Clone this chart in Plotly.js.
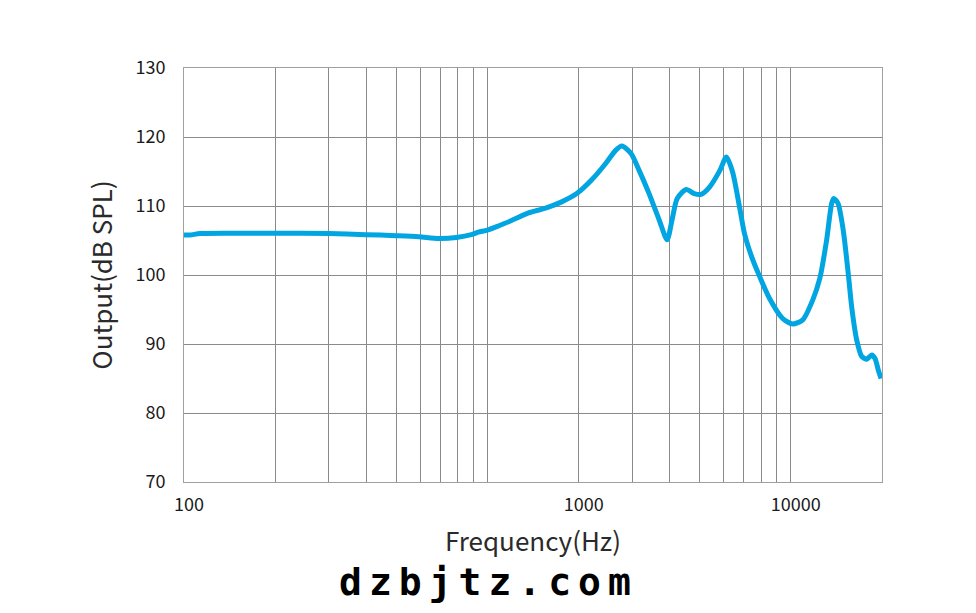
<!DOCTYPE html>
<html>
<head>
<meta charset="utf-8">
<script src="https://cdn.plot.ly/plotly-3.0.1.min.js"></script>
<style>
html,body{margin:0;padding:0;background:#fff;}
#chart{width:976px;height:613px;}
svg text.annotation-text{letter-spacing:7px;}
</style>
</head>
<body>
<div id="chart"></div>
<script>
// Frequency response data (Hz, dB SPL)
const freqHz = [100, 104.6, 113, 141.5, 200, 300, 398, 500, 594, 691, 791, 893, 934,
  1000, 1087, 1201, 1367, 1556, 1758, 1971, 2209, 2459, 2652, 2778, 2976, 3162, 3413, 3684, 3914,
  4064, 4226, 4524, 4810, 5070, 5393, 5850, 6138, 6427, 6780, 7043, 7427, 7898, 8518, 9409,
  10154, 10958, 11826, 12474, 13140, 13650, 13873, 14320, 14900, 15480, 15886, 16503, 17140,
  17812, 18500, 18970, 19450, 19860];
const outputDb = [105.8, 105.8, 106.0, 106.05, 106.05, 106.0, 105.85, 105.7, 105.55, 105.3, 105.45, 105.9, 106.2,
  106.5, 107.1, 107.9, 109.0, 109.7, 110.6, 111.8, 113.8, 116.2, 118.1, 118.7, 117.6, 115.2, 111.8, 108.0, 105.1,
  108.0, 111.1, 112.4, 111.8, 111.7, 112.7, 115.2, 117.1, 115.0, 109.9, 106.0, 102.7, 99.8, 96.6, 93.7,
  92.9, 93.5, 96.4, 99.5, 105.1, 110.4, 111.1, 110.4, 106.5, 100.2, 95.4, 90.6, 88.2,
  87.8, 88.4, 87.9, 86.2, 85.0];

// Axis labels as printed on the reference (the "1000" label sits on the 2000 Hz gridline)
const xTickVals = [100, 2000, 10000];
const xTickText = ['100', '1000', '10000'];
const xGridVals = [200, 300, 400, 500, 600, 700, 800, 900, 1000,
  2000, 3000, 4000, 5000, 6000, 7000, 8000, 9000, 10000];
const yTickVals = [70, 80, 90, 100, 110, 120, 130];

const fontFam = '"Noto Sans CJK SC", "Noto Sans", sans-serif';

const trace = {
  x: freqHz, y: outputDb, type: 'scatter', mode: 'lines',
  line: {color: '#00a5e2', width: 5, shape: 'spline', smoothing: 0.7},
  hoverinfo: 'x+y'
};

const layout = {
  width: 976, height: 613,
  margin: {l: 184, r: 94, t: 68, b: 131},
  paper_bgcolor: '#ffffff', plot_bgcolor: '#ffffff',
  showlegend: false,
  font: {family: fontFam, color: '#1a1a1a', size: 18},
  xaxis: {
    type: 'log', range: [2, Math.log10(20000)],
    tickmode: 'array', tickvals: xTickVals, ticktext: xTickText,
    ticklabelshift: 5, ticklabelstandoff: 6,
    ticks: '', showgrid: false, zeroline: false,
    showline: true, linecolor: '#a0a0a0', linewidth: 1, mirror: true,
    tickfont: {size: 18, color: '#1a1a1a'},
    minor: {tickmode: 'array', tickvals: xGridVals, showgrid: true,
            gridcolor: '#8a8a8a', gridwidth: 1, ticks: ''},
    title: {text: 'Frequency(Hz)', font: {size: 26, color: '#2a2a2a'}, standoff: 18},
    automargin: true, fixedrange: true
  },
  yaxis: {
    range: [70, 130], tickmode: 'array', tickvals: yTickVals,
    ticks: '', showgrid: true, gridcolor: '#8a8a8a', gridwidth: 1,
    zeroline: false, showline: true, linecolor: '#a0a0a0', linewidth: 1, mirror: true,
    ticklabelstandoff: 14,
    tickfont: {size: 18, color: '#1a1a1a'},
    title: {text: 'Output(dB SPL)', font: {size: 26, color: '#2a2a2a'}, standoff: 15},
    automargin: true, fixedrange: true
  },
  annotations: [{
    text: '<b>dzbjtz.com</b>', xref: 'paper', yref: 'paper',
    x: 0.436, y: -0.242, xanchor: 'center', yanchor: 'middle', showarrow: false,
    font: {family: '"DejaVu Sans Mono", "Liberation Mono", monospace', size: 38, color: '#000000'}
  }]
};

Plotly.newPlot('chart', [trace], layout, {displayModeBar: false, staticPlot: true});
</script>
</body>
</html>
